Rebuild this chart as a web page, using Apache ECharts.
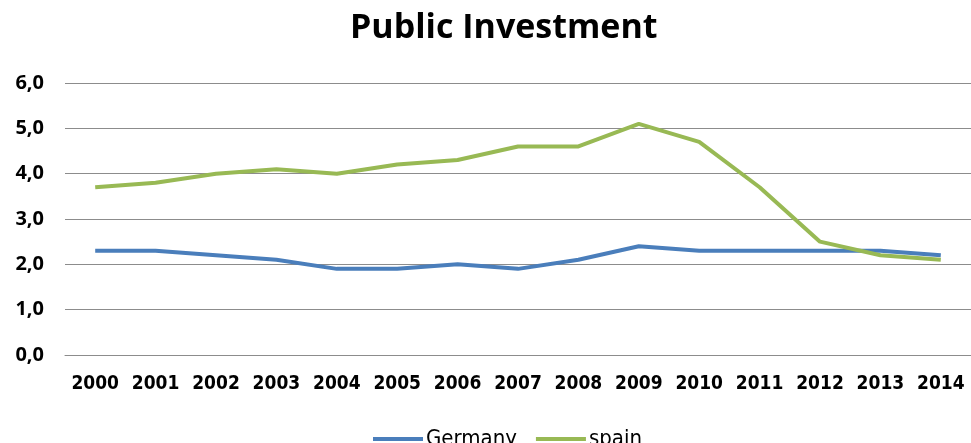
<!DOCTYPE html>
<html>
<head>
<meta charset="utf-8">
<script src="https://cdn.jsdelivr.net/npm/echarts@6/dist/echarts.min.js"></script>
<style>
  html, body { margin: 0; padding: 0; background: #fff; }
  #chart { width: 971px; height: 443px; }
</style>
</head>
<body>
<div id="chart"></div>
<script>
// Public investment, % of GDP
const years = ['2000','2001','2002','2003','2004','2005','2006','2007','2008','2009','2010','2011','2012','2013','2014'];
const germany = [2.3, 2.3, 2.2, 2.1, 1.9, 1.9, 2.0, 1.9, 2.1, 2.4, 2.3, 2.3, 2.3, 2.3, 2.2];
const spain   = [3.7, 3.8, 4.0, 4.1, 4.0, 4.2, 4.3, 4.6, 4.6, 5.1, 4.7, 3.7, 2.5, 2.2, 2.1];
const yTicks  = [0, 1, 2, 3, 4, 5, 6];

const chart = echarts.init(document.getElementById('chart'), null, { renderer: 'canvas' });

chart.setOption({
  animation: false,
  backgroundColor: '#ffffff',
  title: {
    text: 'Public Investment',
    left: 345,
    top: 6,
    textStyle: { fontFamily: 'Open Sans', fontWeight: 'bold', fontSize: 34, color: '#000' }
  },
  legend: {
    data: ['Germany', 'spain'],
    left: 368,
    top: 423,
    icon: 'rect',
    itemWidth: 50,
    itemHeight: 4,
    itemGap: 19,
    textStyle: { fontFamily: 'DejaVu Sans Condensed', fontSize: 22, color: '#000', padding: [0, 0, 0, -2] }
  },
  grid: { left: 65, top: 83, width: 916, height: 272, containLabel: false },
  xAxis: {
    type: 'category',
    data: years,
    boundaryGap: true,
    axisLine: { show: true, lineStyle: { color: '#8c8c8c', width: 1 } },
    axisTick: { show: false },
    axisLabel: { margin: 20, fontFamily: 'DejaVu Sans Condensed', fontWeight: 'bold', fontSize: 19, color: '#000', interval: 0 },
    splitLine: { show: false }
  },
  yAxis: {
    type: 'value',
    min: yTicks[0],
    max: yTicks[yTicks.length - 1],
    interval: 1,
    axisLine: { show: false },
    axisTick: { show: false },
    axisLabel: {
      margin: 21,
      fontFamily: 'Open Sans',
      fontWeight: 'bold',
      fontSize: 20,
      color: '#000',
      formatter: v => v.toFixed(1).replace('.', ',')
    },
    splitLine: { show: true, lineStyle: { color: '#8c8c8c', width: 1 } }
  },
  series: [
    {
      name: 'Germany',
      type: 'line',
      data: germany,
      symbol: 'none',
      lineStyle: { color: '#4a7ebb', width: 4 },
      itemStyle: { color: '#4a7ebb' }
    },
    {
      name: 'spain',
      type: 'line',
      data: spain,
      symbol: 'none',
      lineStyle: { color: '#98b954', width: 4 },
      itemStyle: { color: '#98b954' }
    }
  ]
});
</script>
</body>
</html>
